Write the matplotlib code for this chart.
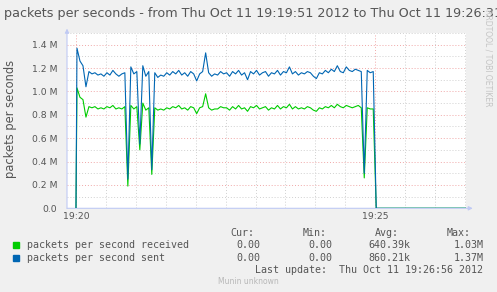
import numpy as np
import matplotlib
matplotlib.use("Agg")
import matplotlib.pyplot as plt
from matplotlib.patches import Rectangle

# seconds after 19:20:00; samples every 3 s, then flat zero after 19:25
seconds = np.concatenate([[0], np.arange(1, 300, 3), [301, 391]])

# packets per second received (millions)
received = [0,
    1.03, 0.95, 0.93, 0.78, 0.87, 0.86, 0.87, 0.85, 0.86, 0.85,
    0.87, 0.86, 0.88, 0.85, 0.86, 0.85, 0.87, 0.19, 0.88, 0.85,
    0.87, 0.50, 0.90, 0.84, 0.86, 0.29, 0.86, 0.84, 0.85, 0.84,
    0.86, 0.85, 0.87, 0.86, 0.88, 0.85, 0.86, 0.84, 0.87, 0.86,
    0.81, 0.86, 0.87, 0.98, 0.86, 0.84, 0.85, 0.85, 0.87, 0.86,
    0.86, 0.84, 0.87, 0.85, 0.88, 0.85, 0.86, 0.83, 0.87, 0.86,
    0.88, 0.85, 0.86, 0.87, 0.84, 0.86, 0.85, 0.88, 0.85, 0.87,
    0.86, 0.89, 0.85, 0.87, 0.85, 0.86, 0.85, 0.87, 0.86, 0.84,
    0.83, 0.86, 0.85, 0.87, 0.86, 0.88, 0.86, 0.89, 0.87, 0.86,
    0.88, 0.87, 0.86, 0.87, 0.88, 0.86, 0.26, 0.86, 0.85, 0.85,
    0, 0]

# packets per second sent (millions)
sent = [0,
    1.37, 1.26, 1.22, 1.04, 1.17, 1.15, 1.16, 1.14, 1.15, 1.13,
    1.16, 1.14, 1.18, 1.15, 1.13, 1.15, 1.16, 0.25, 1.21, 1.15,
    1.17, 0.55, 1.22, 1.13, 1.17, 0.33, 1.16, 1.12, 1.14, 1.13,
    1.16, 1.14, 1.17, 1.15, 1.18, 1.14, 1.16, 1.13, 1.17, 1.15,
    1.09, 1.15, 1.17, 1.33, 1.16, 1.13, 1.15, 1.14, 1.17, 1.15,
    1.16, 1.13, 1.17, 1.15, 1.18, 1.14, 1.16, 1.10, 1.17, 1.15,
    1.18, 1.14, 1.16, 1.17, 1.13, 1.16, 1.15, 1.18, 1.14, 1.17,
    1.16, 1.21, 1.15, 1.17, 1.14, 1.16, 1.15, 1.17, 1.16, 1.13,
    1.11, 1.16, 1.15, 1.18, 1.16, 1.19, 1.17, 1.22, 1.17, 1.16,
    1.21, 1.18, 1.17, 1.19, 1.18, 1.17, 0.30, 1.18, 1.16, 1.17,
    0, 0]

y_ticks = [0.0, 0.2, 0.4, 0.6, 0.8, 1.0, 1.2, 1.4]
y_labels = ["0.0", "0.2 M", "0.4 M", "0.6 M", "0.8 M", "1.0 M", "1.2 M", "1.4 M"]
x_ticks = [0, 300]
x_labels = ["19:20", "19:25"]

legend_rows = [
    ("packets per second received", "#00CC00", "0.00", "0.00", "640.39k", "1.03M"),
    ("packets per second sent", "#0066B3", "0.00", "0.00", "860.21k", "1.37M"),
]

W, H = 497, 292


def px(x, y):
    return x / W, 1 - y / H


fig = plt.figure(figsize=(W / 100, H / 100), dpi=100, facecolor="#F0F0F0")
ax = fig.add_axes([67 / W, 1 - 208.3 / H, 399 / W, 175.3 / H])
ax.set_facecolor("white")

# grid: grey minor, pink major
for v in np.arange(0.1, 1.51, 0.1):
    major = abs(v / 0.2 - round(v / 0.2)) < 1e-6
    ax.axhline(v, color="#F0A8A8" if major else "#D0D0D0", lw=0.7,
               ls=(0, (1, 2)), zorder=1)
for s in range(0, 391, 30):
    ax.axvline(s, color="#F0A8A8" if s in x_ticks else "#D0D0D0", lw=0.7,
               ls=(0, (1, 2)), zorder=1)

ax.plot(seconds, received, color="#00CC00", lw=0.8, zorder=3)
ax.plot(seconds, sent, color="#0066B3", lw=0.8, zorder=4)

ax.set_xlim(-9, 391)
ax.set_ylim(0, 1.5)
for sp in ax.spines.values():
    sp.set_visible(False)

ax.set_yticks(y_ticks)
ax.set_yticklabels(y_labels)
ax.set_xticks(x_ticks)
ax.set_xticklabels(x_labels)
ax.tick_params(length=0, labelsize=6.7, colors="#555555")
ax.tick_params(axis="y", pad=7)
ax.tick_params(axis="x", pad=3)

# axes with arrows
axis_col = "#C0CAF4"
ax.annotate("", xy=(0, 1.025), xytext=(0, 0), xycoords="axes fraction",
            arrowprops=dict(arrowstyle="-|>", color=axis_col, lw=0.8,
                            mutation_scale=6, shrinkA=0, shrinkB=0),
            annotation_clip=False, zorder=5)
ax.annotate("", xy=(1.017, 0), xytext=(0, 0), xycoords="axes fraction",
            arrowprops=dict(arrowstyle="-|>", color=axis_col, lw=0.8,
                            mutation_scale=6, shrinkA=0, shrinkB=0),
            annotation_clip=False, zorder=2)

fig.text(*px(4, 14), "packets per seconds - from Thu Oct 11 19:19:51 2012 to Thu Oct 11 19:26:31",
         fontsize=9.2, color="#555555", ha="left", va="center")
fig.text(*px(11, 119), "packets per seconds", rotation=90, fontsize=8.3,
         color="#555555", ha="center", va="center")
fig.text(*px(488, 58), "RRDTOOL / TOBI OETIKER", rotation=270, fontsize=5.5,
         color="#C4C4C4", ha="center", va="center")

mono = dict(family="DejaVu Sans Mono", fontsize=7.2, color="#555555", va="center")
for head, xl in zip(["Cur:", "Min:", "Avg:", "Max:"], [230.7, 303, 375, 447]):
    fig.text(*px(xl, 233.5), head, ha="left", **mono)

for i, (name, col, cur, mn, avg, mx) in enumerate(legend_rows):
    y = 245.3 + i * 12.3
    fig.patches.append(Rectangle(px(13.3, y + 3), 6 / W, 6 / H, color=col,
                                 transform=fig.transFigure, figure=fig))
    fig.text(*px(26.7, y), name, ha="left", **mono)
    for val, xr in zip([cur, mn, avg, mx], [260, 332.7, 410.7, 483.3]):
        fig.text(*px(xr, y), val, ha="right", **mono)

fig.text(*px(483.3, 269.8), "Last update:  Thu Oct 11 19:26:56 2012", ha="right", **mono)
fig.text(*px(248, 281), "Munin unknown", fontsize=5.5, color="#B8B8B8",
         ha="center", va="center")

fig.savefig("out.png", dpi=100, facecolor=fig.get_facecolor())
